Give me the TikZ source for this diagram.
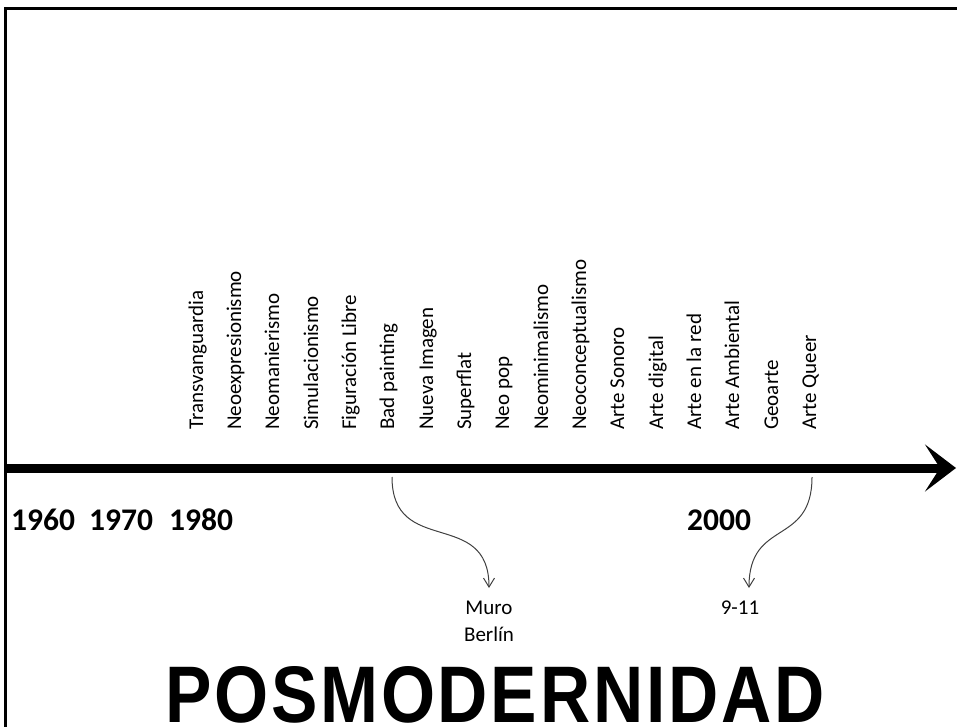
\documentclass[tikz,border=0pt]{standalone}
\usepackage{fontspec}
\usepackage{graphicx}
\setmainfont{Carlito}
\newfontfamily\titlefont[LetterSpace=4]{Liberation Sans}
\usetikzlibrary{arrows.meta,positioning}

\begin{document}
\begin{tikzpicture}[x=1pt,y=1pt,
    era/.style={rotate=90,anchor=base west,inner sep=0pt,
                font=\fontsize{21}{26}\selectfont},
    year/.style={anchor=base west,inner sep=0pt,
                 font=\fontsize{31.5}{36}\selectfont\bfseries},
    event/.style={align=center,anchor=north,inner sep=0pt,
                  font=\fontsize{21}{27}\selectfont},
    timeline/.style={line width=9pt,-{Stealth[length=31pt,width=47pt,inset=15pt]}},
    link/.style={draw=black!75,line width=1pt,looseness=1.4,
                 -{Straight Barb[length=9pt,width=11pt]}}]

      \useasboundingbox (0,0) rectangle (957,-727);
      \draw[line width=3pt] (5,-727) |- (957,-9);

      % main time line
      \coordinate (t0) at (5,-468);
      \coordinate (t1) at (956,-468);
      \draw[timeline] (t0) -- (t1);

      % movements
      \node[era] (transv)   at (203,-430) {Transvanguardia};
      \node[era] (neoexp)   at (241,-430) {Neoexpresionismo};
      \node[era] (neoman)   at (279,-430) {Neomanierismo};
      \node[era] (simul)    at (318,-430) {Simulacionismo};
      \node[era] (figlibre) at (356,-430) {Figuración Libre};
      \node[era] (badpaint) at (394,-430) {Bad painting};
      \node[era] (nuevaimg) at (433,-430) {Nueva Imagen};
      \node[era] (superfl)  at (471,-430) {Superflat};
      \node[era] (neopop)   at (509,-430) {Neo pop};
      \node[era] (neomin)   at (548,-430) {Neominimalismo};
      \node[era] (neocon)   at (586,-430) {Neoconceptualismo};
      \node[era] (sonoro)   at (624,-430) {Arte Sonoro};
      \node[era] (digital)  at (663,-430) {Arte digital};
      \node[era] (red)      at (701,-430) {Arte en la red};
      \node[era] (ambient)  at (739,-430) {Arte Ambiental};
      \node[era] (geoarte)  at (778,-430) {Geoarte};
      \node[era] (queer)    at (816,-430) {Arte Queer};

      % years
      \node[year] (y1960) at (11,-530)  {1960};
      \node[year] (y1970) at (89,-530)  {1970};
      \node[year] (y1980) at (169,-530) {1980};
      \node[year] (y2000) at (687,-530) {2000};

      % events
      \node[event] (muro) at (489,-601) {Muro\\Berlín};
      \node[event] (nine) at (740,-601) {9-11};

      \coordinate (fall)   at (392,-477);
      \coordinate (towers) at (812,-477);
      \draw[link] (fall) to[out=-90,in=90] ([yshift=13pt]muro.north);
      \draw[link] (towers) to[out=-90,in=90] ([xshift=9pt,yshift=13pt]nine.north);

      \node[anchor=base west,inner sep=0pt] (title) at (165,-722)
        {\resizebox{659pt}{56pt}{\titlefont\bfseries POSMODERNIDAD}};
    \end{tikzpicture}
\end{document}
